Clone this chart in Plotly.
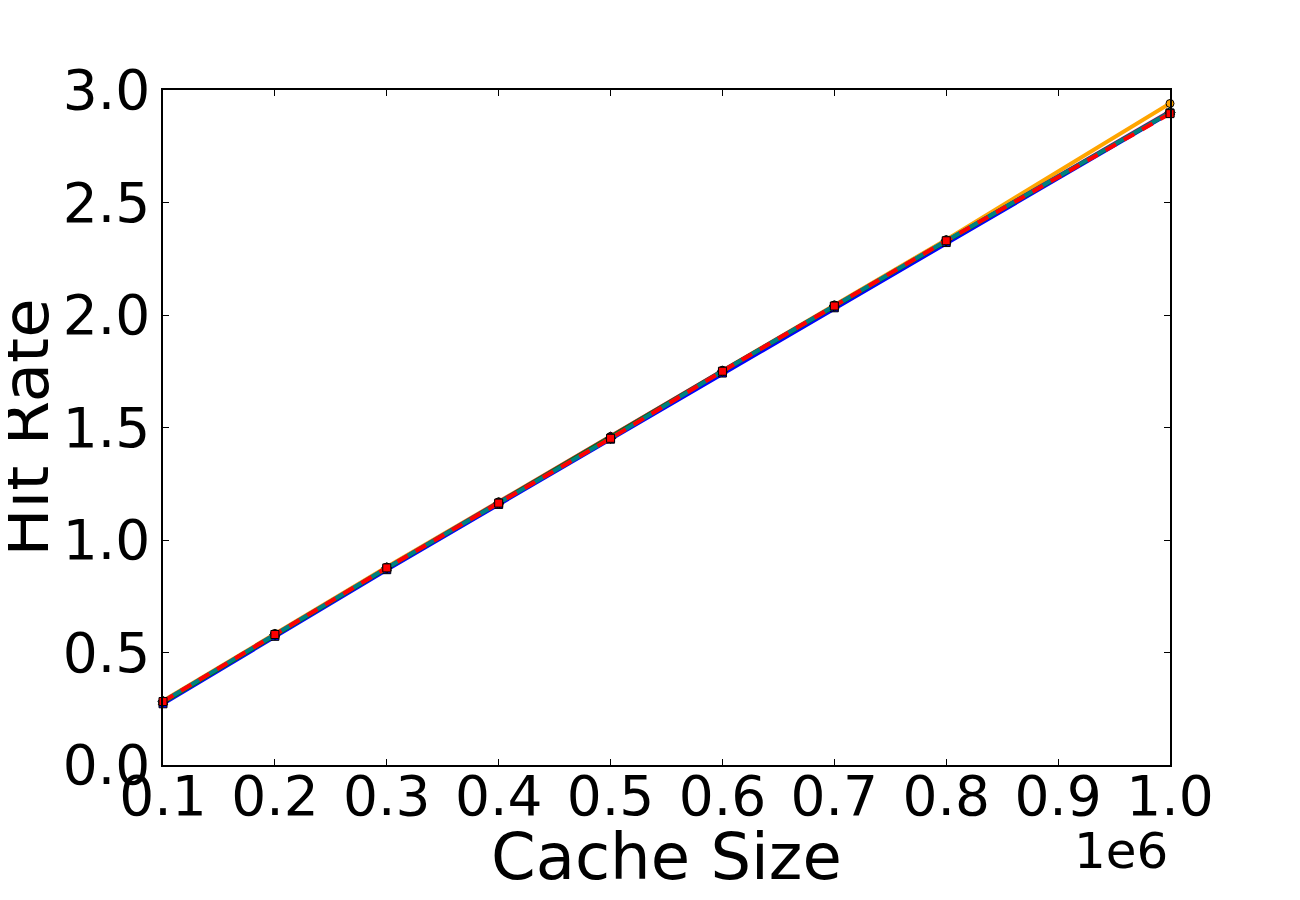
import plotly.graph_objects as go

cache_sizes = [100000, 200000, 300000, 400000, 500000, 600000, 700000, 800000, 1000000]

series_names = ["orange", "purple", "blue", "green", "teal", "red"]
hit_orange = [0.285, 0.585, 0.880, 1.170, 1.460, 1.755, 2.045, 2.335, 2.940]
hit_purple = [0.282, 0.580, 0.876, 1.168, 1.462, 1.752, 2.040, 2.330, 2.905]
hit_blue = [0.272, 0.572, 0.868, 1.158, 1.448, 1.742, 2.032, 2.322, 2.898]
hit_green = [0.278, 0.578, 0.874, 1.165, 1.458, 1.750, 2.038, 2.328, 2.900]
hit_teal = [0.282, 0.580, 0.876, 1.164, 1.452, 1.750, 2.040, 2.330, 2.900]
hit_red = [0.282, 0.580, 0.876, 1.164, 1.452, 1.750, 2.040, 2.330, 2.895]

x_tickvals = [100000, 200000, 300000, 400000, 500000, 600000, 700000, 800000, 900000, 1000000]
x_ticktext = ["0.1", "0.2", "0.3", "0.4", "0.5", "0.6", "0.7", "0.8", "0.9", "1.0"]
y_tickvals = [0.0, 0.5, 1.0, 1.5, 2.0, 2.5, 3.0]
y_ticktext = ["0.0", "0.5", "1.0", "1.5", "2.0", "2.5", "3.0"]

styles = [
    (hit_orange, "#FFA500", "solid", "circle"),
    (hit_purple, "#800080", "solid", "pentagon"),
    (hit_blue, "#0000FF", "solid", "square"),
    (hit_green, "#008000", "solid", "triangle-up"),
    (hit_teal, "#008080", "solid", "diamond"),
    (hit_red, "#FF0000", "12px,9px", "square"),
]

fig = go.Figure()
for name, (ys, color, dash, sym) in zip(series_names, styles):
    fig.add_trace(go.Scatter(
        x=cache_sizes, y=ys, name=name, mode="lines+markers",
        line=dict(color=color, width=4, dash=dash),
        marker=dict(symbol=sym, size=8, color=color, line=dict(color="black", width=1)),
        showlegend=False, cliponaxis=False,
    ))

font = "DejaVu Sans"
fig.update_layout(
    width=1300, height=900,
    margin=dict(l=155, r=138, t=82, b=143),
    paper_bgcolor="white", plot_bgcolor="white",
    font=dict(family=font, color="black"),
    xaxis=dict(
        range=[100000, 1000000], tickvals=x_tickvals, ticktext=x_ticktext,
        tickfont=dict(size=55, family=font), ticks="inside", ticklen=6, tickwidth=1,
        tickcolor="black", showline=True, linecolor="black", linewidth=1.5, mirror="ticks",
        showgrid=False, zeroline=False, automargin=False, ticklabelstandoff=-18,
    ),
    yaxis=dict(
        range=[0, 3.0], tickvals=y_tickvals, ticktext=y_ticktext,
        tickfont=dict(size=55, family=font), ticks="inside", ticklen=6, tickwidth=1,
        tickcolor="black", showline=True, linecolor="black", linewidth=1.5, mirror="ticks",
        showgrid=False, zeroline=False, automargin=False,
    ),
    annotations=[
        dict(
            text="Cache Size", xref="paper", yref="paper", x=0.5, y=-0.0785,
            xanchor="center", yanchor="top", showarrow=False,
            font=dict(size=64, family=font, color="black"),
        ),
        dict(
            text="Hit Rate", xref="paper", yref="paper", x=-0.137, y=0.5,
            xanchor="center", yanchor="middle", textangle=-90, showarrow=False,
            font=dict(size=64, family=font, color="black"),
        ),
        dict(
            text="1e6", xref="paper", yref="paper", x=1.0, y=-0.082,
            xanchor="right", yanchor="top", showarrow=False,
            font=dict(size=50, family=font, color="black"),
        ),
    ],
)

fig.write_html("out.html")
